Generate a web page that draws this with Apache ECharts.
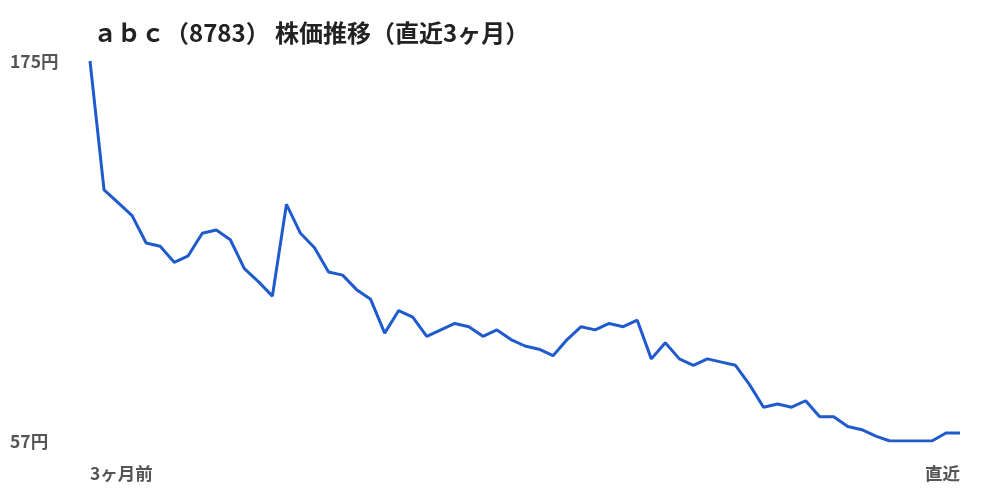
<!DOCTYPE html>
<html><head><meta charset="utf-8">
<script src="https://cdn.jsdelivr.net/npm/echarts@6/dist/echarts.min.js"></script>
<style>html,body{margin:0;padding:0;background:#fff}#c{width:1000px;height:500px}</style>
</head><body><div id="c"></div>
<script>
const titleText = 'ａｂｃ（8783） 株価推移（直近3ヶ月）';
const prices = [175,135,131,127,118.5,117.5,112.5,114.5,121.5,122.5,119.5,110.5,106.5,102,130.5,121.5,117,109.5,108.5,104,101,90.5,97.5,95.5,89.5,91.5,93.5,92.5,89.5,91.5,88.5,86.5,85.5,83.5,88.5,92.5,91.5,93.5,92.5,94.5,82.5,87.5,82.5,80.5,82.5,81.5,80.5,74.5,67.5,68.5,67.5,69.5,64.5,64.5,61.5,60.5,58.5,57,57,57,57,59.5,59.5];
const yTicks = [57, 175];
const firstLabel = '3ヶ月前';
const lastLabel = '直近';
const categories = prices.map((_, i) => i === 0 ? firstLabel : (i === prices.length - 1 ? lastLabel : String(i)));
const last = prices.length - 1;
const font = '"Noto Sans CJK JP","Noto Sans",sans-serif';
const chart = echarts.init(document.getElementById('c'));
chart.setOption({
  animation: false,
  title: { text: titleText, left: 88, top: 16, textStyle: { fontFamily: font, fontSize: 24, fontWeight: 'bold', color: '#222' } },
  grid: { left: 90, right: 40, top: 61, bottom: 59 },
  xAxis: {
    type: 'category', data: categories, boundaryGap: false,
    axisLine: { show: false }, axisTick: { show: false }, splitLine: { show: false },
    axisLabel: {
      interval: (i) => i === 0 || i === last,
      formatter: (v, i) => (i === 0 || i === last) ? v : '',
      alignMinLabel: 'left', alignMaxLabel: 'right',
      margin: 24, fontFamily: font, fontSize: 17.5, fontWeight: 'bold', color: '#555'
    }
  },
  yAxis: {
    type: 'value', min: 57, max: 175,
    axisLine: { show: false }, axisTick: { show: false }, splitLine: { show: false },
    axisLabel: {
      customValues: yTicks,
      formatter: (v) => v + '円',
      align: 'left', margin: 80,
      fontFamily: font, fontSize: 17.5, fontWeight: 'bold', color: '#555'
    }
  },
  series: [{
    type: 'line', data: prices, symbol: 'none',
    lineStyle: { color: '#1f5bcc', width: 3 }
  }]
});
</script></body></html>
